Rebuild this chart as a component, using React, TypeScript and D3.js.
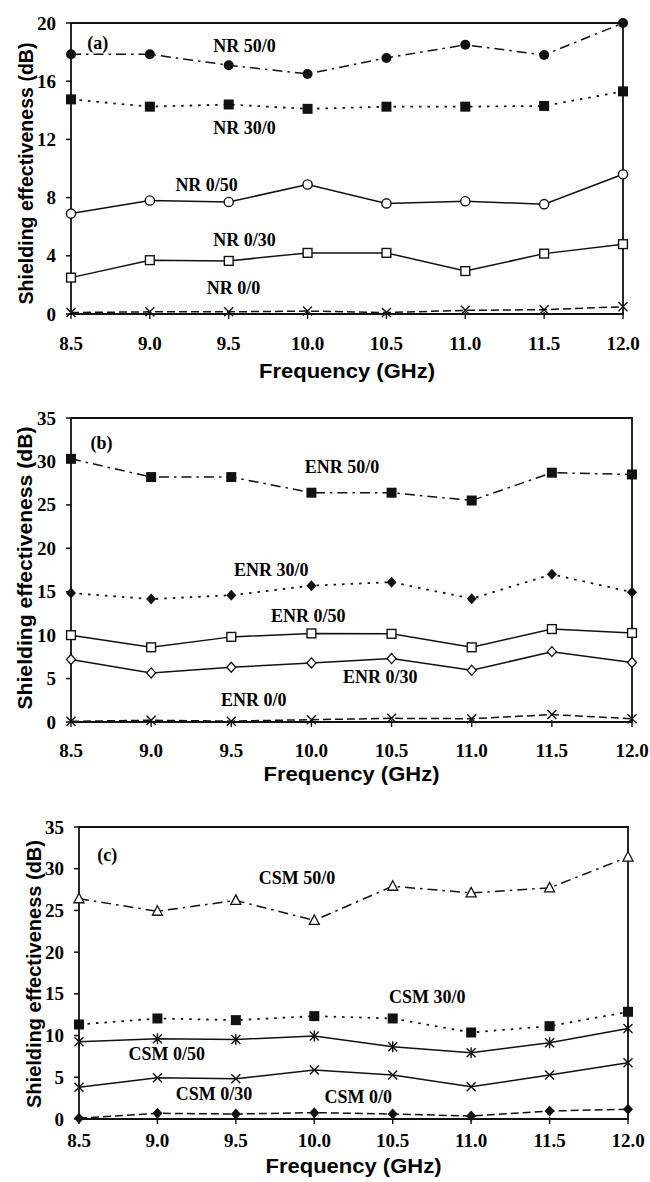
import React from 'react';
import * as d3 from 'd3';

// frequency points (GHz)
const freqs = [8.5, 9.0, 9.5, 10.0, 10.5, 11.0, 11.5, 12.0];
const freqLabels = ['8.5', '9.0', '9.5', '10.0', '10.5', '11.0', '11.5', '12.0'];

// (a) NR
const nr50_0 = [17.85, 17.85, 17.1, 16.5, 17.6, 18.5, 17.8, 20.0];
const nr30_0 = [14.75, 14.25, 14.4, 14.1, 14.25, 14.25, 14.3, 15.3];
const nr0_50 = [6.9, 7.8, 7.7, 8.9, 7.6, 7.75, 7.55, 9.6];
const nr0_30 = [2.5, 3.7, 3.65, 4.2, 4.2, 2.95, 4.15, 4.8];
const nr0_0 = [0.1, 0.15, 0.15, 0.2, 0.1, 0.25, 0.3, 0.5];

// (b) ENR
const enr50_0 = [30.3, 28.2, 28.2, 26.4, 26.4, 25.5, 28.7, 28.5];
const enr30_0 = [14.85, 14.15, 14.6, 15.7, 16.1, 14.2, 17.0, 14.95];
const enr0_50 = [10.0, 8.6, 9.8, 10.2, 10.15, 8.6, 10.7, 10.25];
const enr0_30 = [7.2, 5.65, 6.3, 6.8, 7.3, 5.95, 8.1, 6.85];
const enr0_0 = [0.08, 0.2, 0.1, 0.27, 0.42, 0.38, 0.85, 0.38];

// (c) CSM
const csm50_0 = [26.4, 24.9, 26.2, 23.8, 27.9, 27.1, 27.7, 31.4];
const csm30_0 = [11.33, 12.05, 11.85, 12.33, 12.05, 10.37, 11.13, 12.85];
const csm0_50 = [9.26, 9.62, 9.54, 9.94, 8.66, 7.94, 9.14, 10.85];
const csm0_30 = [3.8, 4.95, 4.83, 5.87, 5.27, 3.87, 5.27, 6.74];
const csm0_0 = [0.08, 0.68, 0.6, 0.76, 0.6, 0.36, 0.96, 1.16];

// label anchors in data units [freq, dB]
const nrLabels = [
  {text: 'NR 50/0', f: 9.6, v: 18.4},
  {text: 'NR 30/0', f: 9.6, v: 12.8},
  {text: 'NR 0/50', f: 9.36, v: 8.87},
  {text: 'NR 0/30', f: 9.6, v: 5.1},
  {text: 'NR 0/0', f: 9.53, v: 1.8},
];
const enrLabels = [
  {text: 'ENR 50/0', f: 10.19, v: 29.35},
  {text: 'ENR 30/0', f: 9.75, v: 17.5},
  {text: 'ENR 0/50', f: 9.98, v: 12.15},
  {text: 'ENR 0/30', f: 10.43, v: 5.15},
  {text: 'ENR 0/0', f: 9.64, v: 2.55},
];
const csmLabels = [
  {text: 'CSM 50/0', f: 9.89, v: 28.9},
  {text: 'CSM 30/0', f: 10.72, v: 14.65},
  {text: 'CSM 0/50', f: 9.06, v: 7.8},
  {text: 'CSM 0/30', f: 9.36, v: 2.95},
  {text: 'CSM 0/0', f: 10.28, v: 2.67},
];

const DASH: any = {
  dashdot: '10,5,2.5,5',
  dot: '2.5,6',
  solid: null,
  dash: '8,4',
};

const SERIF = '"Liberation Serif", "Times New Roman", serif';
const SANS = '"Liberation Sans", Arial, sans-serif';

function Marker({type, x, y}: any) {
  const k = '#111';
  switch (type) {
    case 'dot':
      return <circle cx={x} cy={y} r={5} fill={k}/>;
    case 'ring':
      return <circle cx={x} cy={y} r={4.6} fill="#fff" stroke={k} strokeWidth={1.4}/>;
    case 'sq':
      return <rect x={x - 5} y={y - 5} width={10} height={10} fill={k}/>;
    case 'box':
      return <rect x={x - 4.4} y={y - 4.4} width={8.8} height={8.8} fill="#fff" stroke={k} strokeWidth={1.4}/>;
    case 'dia':
      return <path d={`M${x},${y - 5.5}L${x + 5},${y}L${x},${y + 5.5}L${x - 5},${y}Z`} fill={k}/>;
    case 'odia':
      return <path d={`M${x},${y - 5}L${x + 4.5},${y}L${x},${y + 5}L${x - 4.5},${y}Z`} fill="#fff" stroke={k} strokeWidth={1.3}/>;
    case 'tri':
      return <path d={`M${x},${y - 5.5}L${x + 5},${y + 4}L${x - 5},${y + 4}Z`} fill="#fff" stroke={k} strokeWidth={1.3}/>;
    case 'x':
      return <path d={`M${x - 4.5},${y - 4.5}L${x + 4.5},${y + 4.5}M${x - 4.5},${y + 4.5}L${x + 4.5},${y - 4.5}`} stroke={k} strokeWidth={1.4}/>;
    case 'star':
      return <path d={`M${x - 4.5},${y - 4.5}L${x + 4.5},${y + 4.5}M${x - 4.5},${y + 4.5}L${x + 4.5},${y - 4.5}M${x},${y - 5.5}L${x},${y + 5.5}`} stroke={k} strokeWidth={1.4}/>;
    default:
      return null;
  }
}

function Panel({box, yMax, yStep, series, labels, tag, yTitle}: any) {
  const {left, right, top, bottom} = box;
  const x = d3.scaleLinear().domain([8.5, 12]).range([left, right]);
  const y = d3.scaleLinear().domain([0, yMax]).range([bottom, top]);
  const yTicks = d3.range(0, yMax + 0.001, yStep);
  const line = d3.line<number>().x((d, i) => x(freqs[i])).y(d => y(d));
  const midX = (left + right) / 2;
  const midY = (top + bottom) / 2;

  return (
    <g>
      {/* frame */}
      <path d={`M${left},${top}H${right}V${bottom}H${left}Z`} fill="none" stroke="#111" strokeWidth={1.8}/>
      {yTicks.map(t => (
        <g key={'y' + t}>
          <line x1={left - 5} x2={left} y1={y(t)} y2={y(t)} stroke="#111" strokeWidth={1.5}/>
          <text x={left - 15} y={y(t) + 6.5} textAnchor="end" fontFamily={SERIF} fontWeight="bold" fontSize={19}>{t}</text>
        </g>
      ))}
      {freqs.map((f, i) => (
        <g key={'x' + f}>
          <line x1={x(f)} x2={x(f)} y1={bottom - 2} y2={bottom + 5} stroke="#111" strokeWidth={1.4}/>
          <text x={x(f)} y={box.tickY} textAnchor="middle" fontFamily={SERIF} fontWeight="bold" fontSize={19}>{freqLabels[i]}</text>
        </g>
      ))}
      <text x={midX} y={box.titleY} textAnchor="middle" fontFamily={SANS} fontWeight="bold" fontSize={20}
        textLength={176} lengthAdjust="spacingAndGlyphs">Frequency (GHz)</text>
      <text transform={`translate(${yTitle.x},${midY + yTitle.dy}) rotate(-90)`} textAnchor="middle" fontFamily={SANS}
        fontWeight="bold" fontSize={20} textLength={yTitle.len} lengthAdjust="spacingAndGlyphs">Shielding effectiveness (dB)</text>

      {series.map((s: any) => (
        <path key={s.name} d={line(s.values) || ''} fill="none" stroke="#111" strokeWidth={s.dash === 'dot' ? 1.8 : 1.5}
          strokeDasharray={DASH[s.dash] || undefined}/>
      ))}
      {series.map((s: any) => s.values.map((v: number, i: number) => (
        <Marker key={s.name + i} type={s.marker} x={x(freqs[i])} y={y(v)}/>
      )))}

      <text x={x(tag.f)} y={y(tag.v) + 6} textAnchor="middle" fontFamily={SERIF} fontWeight="bold" fontSize={18}>{tag.text}</text>
      {labels.map((l: any) => (
        <text key={l.text} x={x(l.f)} y={y(l.v) + 6} textAnchor="middle" fontFamily={SERIF} fontWeight="bold" fontSize={18}>{l.text}</text>
      ))}
    </g>
  );
}

export default function App() {
  const seriesA = [
    {name: 'NR 50/0', values: nr50_0, dash: 'dashdot', marker: 'dot'},
    {name: 'NR 30/0', values: nr30_0, dash: 'dot', marker: 'sq'},
    {name: 'NR 0/50', values: nr0_50, dash: 'solid', marker: 'ring'},
    {name: 'NR 0/30', values: nr0_30, dash: 'solid', marker: 'box'},
    {name: 'NR 0/0', values: nr0_0, dash: 'dash', marker: 'x'},
  ];
  const seriesB = [
    {name: 'ENR 50/0', values: enr50_0, dash: 'dashdot', marker: 'sq'},
    {name: 'ENR 30/0', values: enr30_0, dash: 'dot', marker: 'dia'},
    {name: 'ENR 0/50', values: enr0_50, dash: 'solid', marker: 'box'},
    {name: 'ENR 0/30', values: enr0_30, dash: 'solid', marker: 'odia'},
    {name: 'ENR 0/0', values: enr0_0, dash: 'dash', marker: 'x'},
  ];
  const seriesC = [
    {name: 'CSM 50/0', values: csm50_0, dash: 'dashdot', marker: 'tri'},
    {name: 'CSM 30/0', values: csm30_0, dash: 'dot', marker: 'sq'},
    {name: 'CSM 0/50', values: csm0_50, dash: 'solid', marker: 'star'},
    {name: 'CSM 0/30', values: csm0_30, dash: 'solid', marker: 'x'},
    {name: 'CSM 0/0', values: csm0_0, dash: 'dash', marker: 'dia'},
  ];

  return (
    <svg width={650} height={1182} style={{position: 'absolute', left: 0, top: 0, background: '#fff'}}>
      <Panel box={{left: 71, right: 623, top: 23, bottom: 314, tickY: 350, titleY: 378}} yMax={20} yStep={4}
        series={seriesA} labels={nrLabels} tag={{text: '(a)', f: 8.67, v: 18.6}}
        yTitle={{x: 33, dy: 5, len: 262}}/>
      <Panel box={{left: 71, right: 632, top: 418, bottom: 722, tickY: 757, titleY: 781}} yMax={35} yStep={5}
        series={seriesB} labels={enrLabels} tag={{text: '(b)', f: 8.69, v: 32.1}}
        yTitle={{x: 32, dy: -2, len: 283}}/>
      <Panel box={{left: 79, right: 628, top: 827, bottom: 1119, tickY: 1147, titleY: 1173}} yMax={35} yStep={5}
        series={seriesC} labels={csmLabels} tag={{text: '(c)', f: 8.68, v: 31.6}}
        yTitle={{x: 41, dy: 1, len: 268}}/>
    </svg>
  );
}
